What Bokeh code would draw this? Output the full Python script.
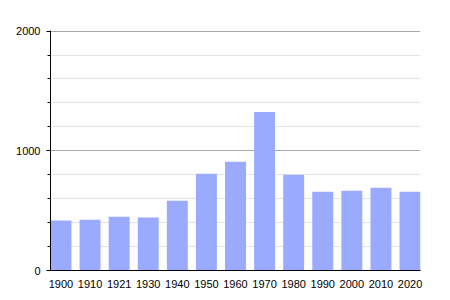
from bokeh.plotting import figure
from bokeh.models import FixedTicker, Range1d
from bokeh.embed import file_html
from bokeh.resources import INLINE

years = ["1900", "1910", "1921", "1930", "1940", "1950", "1960", "1970", "1980", "1990", "2000", "2010", "2020"]
population = [417, 425, 450, 442, 583, 808, 908, 1325, 800, 658, 667, 692, 658]
y_ticks = [0, 1000, 2000]
y_minor = [200, 400, 600, 800, 1200, 1400, 1600, 1800]

xs = list(range(len(years)))
bw = 0.72

p = figure(width=450, height=300, output_backend="svg", toolbar_location=None,
           x_range=Range1d(-bw / 2, len(years) - 1 + bw / 2), y_range=Range1d(0, 2005),
           min_border_left=50, min_border_right=30, min_border_top=30, min_border_bottom=30)
p.frame_width = 370
p.frame_height = 240
p.outline_line_color = None
p.background_fill_color = "white"
p.border_fill_color = "white"

p.vbar(x=xs, top=population, width=bw, fill_color="#99aaff", line_color=None)

# x axis
p.xaxis.ticker = FixedTicker(ticks=xs)
p.xaxis.major_label_overrides = {i: y for i, y in enumerate(years)}
p.xaxis.major_tick_line_color = None
p.xaxis.minor_tick_line_color = None
p.xaxis.axis_line_color = "black"
p.xaxis.axis_line_width = 1
p.xaxis.major_label_standoff = 3
p.xaxis.major_label_text_font = "Liberation Sans"
p.xaxis.major_label_text_font_size = "11px"
p.xaxis.major_label_text_color = "black"
p.xgrid.grid_line_color = None

# y axis
p.yaxis.ticker = FixedTicker(ticks=y_ticks, minor_ticks=y_minor)
p.yaxis.axis_line_color = "black"
p.yaxis.major_tick_out = 4
p.yaxis.major_tick_in = 0
p.yaxis.minor_tick_out = 3
p.yaxis.minor_tick_in = 0
p.yaxis.major_tick_line_color = "black"
p.yaxis.minor_tick_line_color = "black"
p.yaxis.major_label_standoff = 6
p.yaxis.major_label_text_font = "Liberation Sans"
p.yaxis.major_label_text_font_size = "11px"
p.yaxis.major_label_text_color = "black"
p.ygrid.grid_line_color = "#a8a8a8"
p.ygrid.minor_grid_line_color = "#e4e4e4"
p.ygrid.level = "underlay"

open("out.html", "w").write(file_html(p, INLINE))
